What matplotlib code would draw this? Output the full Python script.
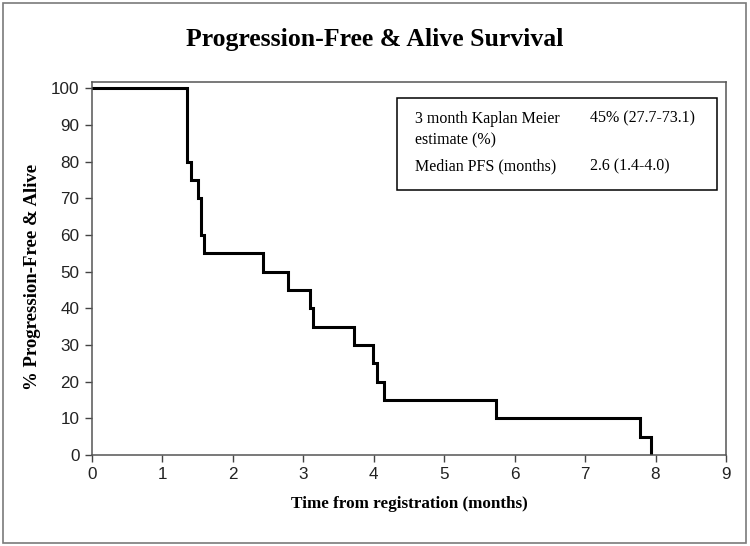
import matplotlib
matplotlib.use('Agg')
import matplotlib.pyplot as plt
from matplotlib.patches import Rectangle

# Kaplan-Meier step points (months, % progression-free & alive)
times = [0, 1.355, 1.40, 1.51, 1.54, 1.59, 2.43, 2.78, 3.10, 3.13, 3.72, 3.99, 4.04, 4.15, 5.74, 7.78, 7.93]
surv = [100, 80, 75, 70, 60, 55, 50, 45, 40, 35, 30, 25, 20, 15, 10, 5, 0]

x_ticks = list(range(0, 10))
y_ticks = list(range(0, 101, 10))

table_rows = [
    ("3 month Kaplan Meier\nestimate (%)", "45% (27.7-73.1)"),
    ("Median PFS (months)", "2.6 (1.4-4.0)"),
]

serif = ['Liberation Serif', 'DejaVu Serif']
sans = ['Liberation Sans', 'DejaVu Sans']

fig = plt.figure(figsize=(7.5, 5.46), dpi=100)
ax = fig.add_axes([0.1227, 0.1667, 0.8453, 0.6832])

# outer frame around the whole picture
fig.patches.append(Rectangle((0.004, 0.005), 0.991, 0.99, transform=fig.transFigure,
                             fill=False, edgecolor='#7a7a7a', linewidth=1.2))

ax.step(times, surv, where='post', color='black', linewidth=2.2, solid_joinstyle='miter')

ax.set_xlim(0, 9)
ax.set_ylim(0, 101.7)
ax.set_xticks(x_ticks)
ax.set_yticks(y_ticks)
ax.tick_params(direction='out', length=5, width=1, color='#444444',
               labelsize=12.3, labelcolor='#222222', pad=4)
for lab in ax.get_xticklabels() + ax.get_yticklabels():
    lab.set_family(sans)
for sp in ax.spines.values():
    sp.set_color('#555555')
    sp.set_linewidth(1.1)

fig.text(0.5, 0.928, "Progression-Free & Alive Survival", ha='center', va='center',
         family=serif, fontweight='bold', fontsize=18.5)
ax.set_xlabel("Time from registration (months)", family=serif, fontweight='bold',
              fontsize=12.3, labelpad=10)
ax.set_ylabel("% Progression-Free & Alive", family=serif, fontweight='bold',
              fontsize=13.5)
ax.yaxis.set_label_coords(-0.08, 0.477)

# info table box
ax.add_patch(Rectangle((4.33, 72.2), 4.54, 25.1, fill=False, edgecolor='black',
                       linewidth=1.1, zorder=3))
ax.text(4.58, 93.9, table_rows[0][0], ha='left', va='top', family=serif, fontsize=11.5,
        linespacing=1.5)
ax.text(7.07, 93.9, table_rows[0][1], ha='left', va='top', family=serif, fontsize=11.5)
ax.text(4.58, 78.8, table_rows[1][0], ha='left', va='center', family=serif, fontsize=11.5)
ax.text(7.07, 78.8, table_rows[1][1], ha='left', va='center', family=serif, fontsize=11.5)

fig.savefig('out.png', dpi=100)
